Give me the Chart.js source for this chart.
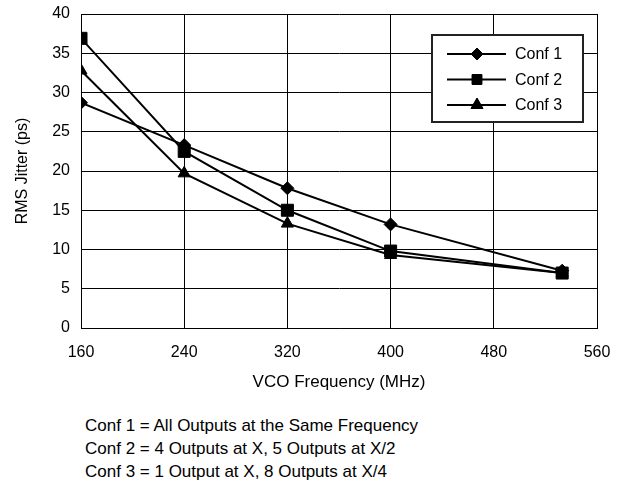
<!DOCTYPE html>
<html>
<head>
<meta charset="utf-8">
<script src="https://cdn.jsdelivr.net/npm/chart.js@4"></script>
<style>
  body { margin: 0; background: #fff; }
  #wrap { position: relative; width: 623px; height: 398px; }
  .note { position: absolute; left: 85px; font: 17px "Liberation Sans", Arial, sans-serif; line-height: 23px; color: #000; white-space: nowrap; }
</style>
</head>
<body>
<div id="wrap"><canvas id="jitterChart"></canvas></div>
<div class="note" style="top: 414px;">Conf 1 = All Outputs at the Same Frequency</div>
<div class="note" style="top: 437px;">Conf 2 = 4 Outputs at X, 5 Outputs at X/2</div>
<div class="note" style="top: 460px;">Conf 3 = 1 Output at X, 8 Outputs at X/4</div>
<script>
// VCO frequency (MHz) and RMS jitter (ps)
const freqs = [160, 240, 320, 400, 533];
const conf1 = [28.7, 23.3, 17.8, 13.2, 7.3];
const conf2 = [36.9, 22.5, 15.0, 9.8, 7.0];
const conf3 = [32.8, 19.7, 13.3, 9.3, 7.0];
const seriesNames = ['Conf 1', 'Conf 2', 'Conf 3'];
const markers = ['rectRot', 'rect', 'triangle'];
const markerSizes = [6.5, 8.5, 7];

const font = "'Liberation Sans', Arial, sans-serif";

function toPoints(vals) {
    return vals.map(function(v, i) { return { x: freqs[i], y: v }; });
}

// legend drawn inside the plot area, like the original
const boxLegend = {
    id: 'boxLegend',
    afterDraw: function(chart) {
        var ctx = chart.ctx;
        var x = 432, y = 35, w = 151, h = 87;
        ctx.save();
        ctx.fillStyle = '#fff';
        ctx.fillRect(x, y, w, h);
        ctx.lineWidth = 2;
        ctx.strokeStyle = '#222';
        ctx.strokeRect(x, y, w, h);
        chart.data.datasets.forEach(function(ds, i) {
            var ly = 54 + i * 25.5;
            ctx.strokeStyle = '#000';
            ctx.fillStyle = '#000';
            ctx.lineWidth = 2;
            ctx.beginPath();
            ctx.moveTo(447, ly);
            ctx.lineTo(506, ly);
            ctx.stroke();
            ctx.lineWidth = 1;
            Chart.helpers.drawPoint(ctx, { pointStyle: ds.pointStyle, radius: [6, 7, 7][i], borderWidth: 1 }, 477, ly);
            ctx.fill();
            ctx.font = '16px ' + font;
            ctx.textBaseline = 'middle';
            ctx.fillText(ds.label, 515, ly + 1);
        });
        ctx.restore();
    }
};

const ctx = document.getElementById('jitterChart').getContext('2d');
const jitterChart = new Chart(ctx, {
    type: 'line',
    data: {
        datasets: [conf1, conf2, conf3].map(function(vals, i) {
            return {
                label: seriesNames[i],
                data: toPoints(vals),
                borderColor: '#000',
                backgroundColor: '#000',
                borderWidth: 2,
                pointStyle: markers[i],
                pointRadius: markerSizes[i],
                pointBorderWidth: 1,
                tension: 0
            };
        })
    },
    options: {
        responsive: true,
        maintainAspectRatio: false,
        animation: false,
        layout: { padding: { left: 6, right: 26, top: 14, bottom: 0 } },
        plugins: {
            legend: { display: false },
            tooltip: { enabled: false }
        },
        scales: {
            x: {
                type: 'linear',
                min: 160,
                max: 560,
                ticks: { stepSize: 80, color: '#000', font: { family: font, size: 16 }, padding: 15 },
                grid: { color: '#000', lineWidth: 1, drawTicks: false },
                border: { color: '#000', width: 1 },
                title: { display: true, text: 'VCO Frequency (MHz)', color: '#000', font: { family: font, size: 17 }, padding: { top: 0, bottom: 5 } },
                afterFit: function(scale) {
                    scale.height = 70;
                    scale.paddingLeft = 0;
                    scale.paddingRight = 0;
                }
            },
            y: {
                min: 0,
                max: 40,
                ticks: { stepSize: 5, color: '#000', font: { family: font, size: 16 }, padding: 11 },
                grid: { color: '#000', lineWidth: 1, drawTicks: false },
                border: { color: '#000', width: 1 },
                title: { display: true, text: 'RMS Jitter (ps)', color: '#000', font: { family: font, size: 16 }, padding: { top: 7, bottom: 0 } },
                afterFit: function(scale) {
                    scale.width = 75;
                    scale.paddingTop = 0;
                    scale.paddingBottom = 0;
                }
            }
        }
    },
    plugins: [boxLegend]
});
</script>
</body>
</html>
